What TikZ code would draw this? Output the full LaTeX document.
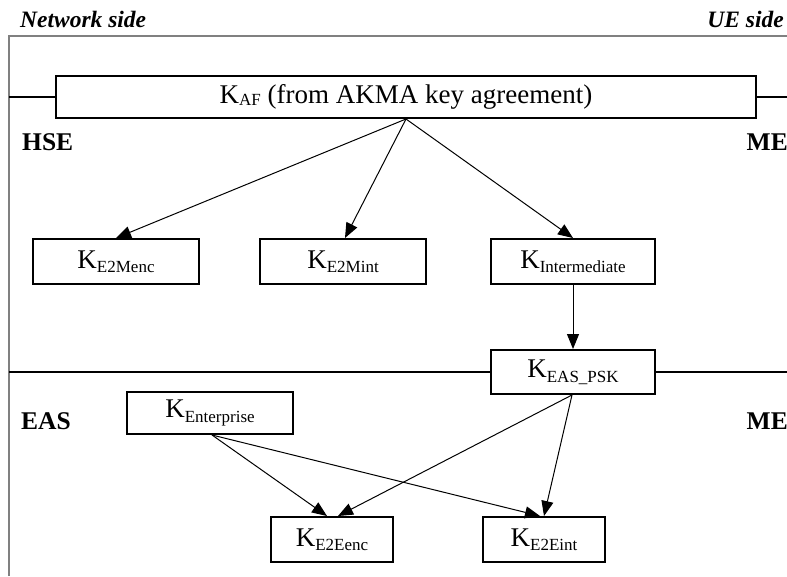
\documentclass[tikz,border=0pt]{standalone}
\usepackage{fontspec}
\setmainfont{Liberation Serif}
\usetikzlibrary{arrows.meta}
\newcommand{\keyname}[2][-4.5pt]{K\raisebox{#1}{\fontsize{17pt}{17pt}\selectfont #2}}
\begin{document}
\begin{tikzpicture}[x=1pt,y=-1pt,
  keybox/.style={draw,line width=2pt,inner sep=0pt,font=\fontsize{27pt}{30pt}\selectfont},
  arr/.style={-{Triangle[length=15pt,width=12pt]},line width=1pt},
  side/.style={font=\fontsize{23.5pt}{26pt}\selectfont\bfseries\itshape,inner sep=0pt},
  dom/.style={font=\fontsize{25.5pt}{28pt}\selectfont\bfseries,inner sep=0pt},
  sep/.style={line width=1.5pt},
  frame/.style={draw=gray,line width=1.2pt}]
\useasboundingbox (0,0) rectangle (787,576);
% frame
\draw[frame] (9,576) -- (9,36) -- (787,36);
% side labels
\node[side,anchor=base west] (net) at (20,27) {Network side};
\node[side,anchor=base east] (ue) at (784,27) {UE side};
% key boxes
\node[keybox,minimum width=700pt,minimum height=42pt] (af) at (406,97) {\keyname[-1.5pt]{AF} (from AKMA key agreement)};
\node[keybox,minimum width=166pt,minimum height=45pt] (e2menc) at (116,261.5) {\keyname{E2Menc}};
\node[keybox,minimum width=166pt,minimum height=45pt] (e2mint) at (343,261.5) {\keyname{E2Mint}};
\node[keybox,minimum width=164pt,minimum height=45pt] (kint) at (573,261.5) {\keyname{Intermediate}};
\node[keybox,minimum width=164pt,minimum height=44pt] (psk) at (573,372) {\keyname{EAS\_PSK}};
\node[keybox,minimum width=166pt,minimum height=42pt] (ent) at (210,413) {\keyname{Enterprise}};
\node[keybox,minimum width=122pt,minimum height=45pt] (e2eenc) at (332,539.5) {\keyname{E2Eenc}};
\node[keybox,minimum width=122pt,minimum height=45pt] (e2eint) at (544,539.5) {\keyname{E2Eint}};
% separators
\draw[sep] (9,97) -- (af.west);
\draw[sep] (af.east) -- (787,97);
\draw[sep] (9,372) -- (psk.west);
\draw[sep] (psk.east) -- (787,372);
% domain labels
\node[dom,anchor=base west] (hse) at (22,150) {HSE};
\node[dom,anchor=base east] (me1) at (788,150) {ME};
\node[dom,anchor=base west] (eas) at (21,429) {EAS};
\node[dom,anchor=base east] (me2) at (788,429) {ME};
% arrows
\draw[arr] (af.south) -- (e2menc.north);
\draw[arr] (af.south) -- ([xshift=2pt]e2mint.north);
\draw[arr] (af.south) -- (kint.north);
\draw[arr] (kint.south) -- (psk.north);
\draw[arr] ([xshift=-1pt]psk.south) -- ([xshift=6pt]e2eenc.north);
\draw[arr] ([xshift=-1pt]psk.south) -- (e2eint.north);
\draw[arr] ([xshift=2pt]ent.south) -- ([xshift=-5pt]e2eenc.north);
\draw[arr] ([xshift=2pt]ent.south) -- ([xshift=-4pt]e2eint.north);
\end{tikzpicture}
\end{document}
